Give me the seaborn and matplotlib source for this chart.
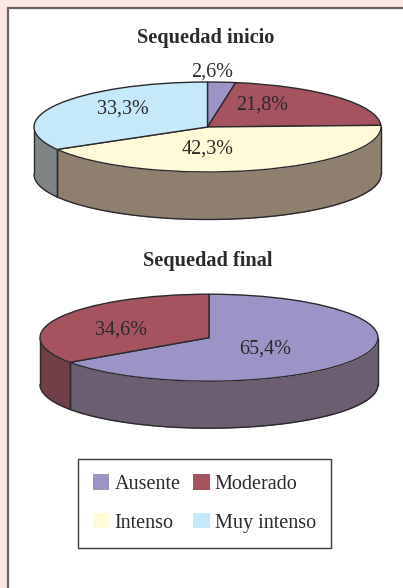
import numpy as np
import seaborn as sns
import matplotlib.pyplot as plt
from matplotlib.patches import Patch, Rectangle

W, H = 403, 588

categories = ['Ausente', 'Moderado', 'Intenso', 'Muy intenso']
inicio_values = [2.6, 21.8, 42.3, 33.3]
final_values = [65.4, 34.6]
final_categories = ['Ausente', 'Moderado']

top_colors = dict(zip(categories, ['#9C94C6', '#A5535F', '#FFFBD8', '#C6E9FA']))
wall_colors = dict(zip(categories, ['#6A5E70', '#713F48', '#8E7F6E', '#7F8585']))

sns.set_theme(style='white')
plt.rcParams['font.family'] = ['Liberation Serif', 'DejaVu Serif']
INK = '#2b2a2c'


def pct(v):
    return f'{v:.1f}%'.replace('.', ',')


def pie3d(fig, names, values, cx, cy, rx, ry, depth, label_xy):
    # axes span the ellipse and the wall under it, y stretched after the pie
    ax = fig.add_axes([(cx - rx) / W, 1 - (cy + ry + depth) / H,
                       2 * rx / W, (2 * ry + depth) / H])
    d = depth / ry
    cols = [top_colors[n] for n in names]
    wedges, _ = ax.pie(values, colors=cols, startangle=90, counterclock=False,
                       wedgeprops=dict(edgecolor=INK, linewidth=1.0))
    ax.set_aspect('auto')
    ax.set_xlim(-1, 1)
    ax.set_ylim(-1 - d, 1)
    ax.axis('off')
    for w in wedges:
        w.set_clip_on(False)
        w.set_zorder(3)

    # side wall: only the front half of the circle shows
    edges = np.cumsum([0] + list(values)) / sum(values) * 360
    for name, a, b in zip(names, edges[:-1], edges[1:]):
        a2, b2 = max(a, 90), min(b, 270)
        if a2 >= b2:
            continue
        t = np.radians(np.linspace(a2, b2, 200))
        x, y = np.sin(t), np.cos(t)
        ax.fill_between(x, y, y - d, color=wall_colors[name], lw=0, zorder=1, clip_on=False)
        ax.plot(x, y - d, color=INK, lw=1.0, zorder=2, clip_on=False)
        ax.plot([x[0], x[0]], [y[0], y[0] - d], color=INK, lw=1.0, zorder=2, clip_on=False)
        ax.plot([x[-1], x[-1]], [y[-1], y[-1] - d], color=INK, lw=1.0, zorder=2, clip_on=False)
    for v, (px, py) in zip(values, label_xy):
        fig.text(px / W, 1 - py / H, pct(v), ha='center', va='center',
                 fontsize=14.5, color=INK, zorder=5)


fig = plt.figure(figsize=(W / 100, H / 100), dpi=100, facecolor='#FDE8E3')
fig.add_artist(Rectangle((8 / W, -0.05), 1.1, 1.05 - 8 / H, transform=fig.transFigure,
                         facecolor='white', edgecolor='#6E6463', linewidth=1.6, zorder=-1))

fig.text(206 / W, 1 - 38 / H, 'Sequedad inicio', ha='center', va='center',
         fontsize=14.6, fontweight='bold', color=INK)
fig.text(208 / W, 1 - 261 / H, 'Sequedad final', ha='center', va='center',
         fontsize=14.6, fontweight='bold', color=INK)

pie3d(fig, categories, inicio_values, 207.5, 127, 173.5, 45, 47.5,
      [(212.5, 72), (262, 105), (208, 149), (123, 109)])
pie3d(fig, final_categories, final_values, 209, 337.7, 169, 43.5, 47,
      [(265, 349), (121, 330)])

# legend fills by column, so this order gives the reference rows
legend_order = ['Ausente', 'Intenso', 'Moderado', 'Muy intenso']
handles = [Patch(facecolor=top_colors[n], edgecolor='none', label=n) for n in legend_order]
leg = fig.legend(handles=handles, ncols=2, loc='center',
                 bbox_to_anchor=(204.5 / W, 1 - 503.5 / H),
                 fontsize=14.5, frameon=True, fancybox=False, edgecolor='#3a3a3a',
                 framealpha=1, handlelength=0.8, handleheight=0.8, handletextpad=0.25,
                 columnspacing=0.65, labelspacing=0.95, borderpad=0.78, labelcolor=INK)
leg.get_frame().set_linewidth(1.0)

plt.savefig('out.png', dpi=100, facecolor=fig.get_facecolor())
